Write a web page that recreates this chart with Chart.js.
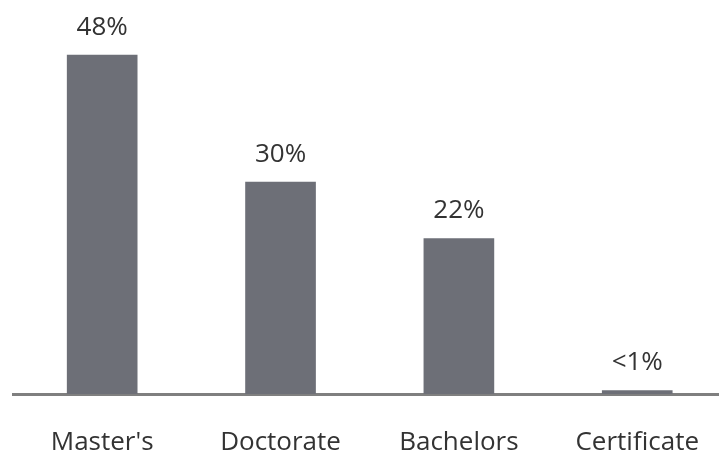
<!DOCTYPE html>
<html>
<head>
<meta charset="utf-8">
<title>Degree</title>
<script src="https://cdn.jsdelivr.net/npm/chart.js@4.4.0/dist/chart.umd.min.js"></script>
<style>
  html, body { margin: 0; padding: 0; background: #fff; overflow: hidden; }
  .chart-wrapper { position: relative; width: 732px; height: 456px; }
</style>
</head>
<body>
<div class="chart-wrapper">
  <canvas id="myChart"></canvas>
</div>
<script>
  const categories = ["Master's", "Doctorate", "Bachelors", "Certificate"];
  const shares = [48, 30, 22, 0.5];
  const shareLabels = ["48%", "30%", "22%", "<1%"];

  // draw the percent text above each bar
  const barLabels = {
    id: 'barLabels',
    afterDatasetsDraw(chart) {
      const ctx = chart.ctx;
      const meta = chart.getDatasetMeta(0);
      ctx.save();
      ctx.font = '26px "Open Sans"';
      ctx.fillStyle = '#333333';
      ctx.textAlign = 'center';
      ctx.textBaseline = 'middle';
      meta.data.forEach((bar, i) => {
        ctx.fillText(shareLabels[i], bar.x, bar.y - 28);
      });
      ctx.restore();
    }
  };

  const ctx = document.getElementById('myChart');
  const myChart = new Chart(ctx, {
    type: 'bar',
    data: {
      labels: categories,
      datasets: [{
        data: shares,
        backgroundColor: '#6d6f77',
        barThickness: 70
      }]
    },
    options: {
      responsive: true,
      maintainAspectRatio: false,
      animation: false,
      layout: { padding: { left: 13, right: 0, top: 41, bottom: 0 } },
      plugins: {
        legend: { display: false },
        tooltip: { enabled: false }
      },
      scales: {
        x: {
          afterFit(scale) { scale.height = 62; },
          grid: { display: false, drawTicks: false },
          border: { display: true, color: '#7f7f7f', width: 3 },
          ticks: {
            color: '#333333',
            padding: 33,
            font: { family: '"Open Sans"', size: 26 }
          }
        },
        y: {
          display: false,
          min: 0,
          max: 50
        }
      }
    },
    plugins: [barLabels]
  });
</script>
</body>
</html>
